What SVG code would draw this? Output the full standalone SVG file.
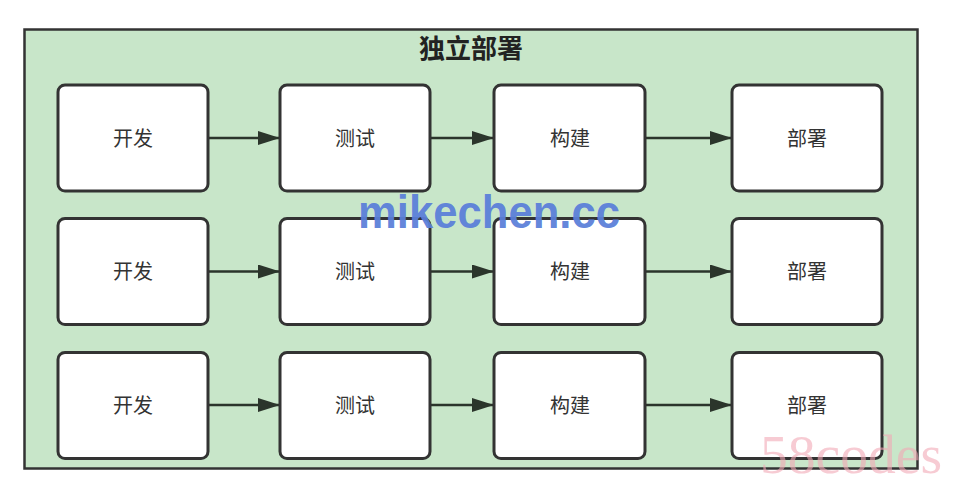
<svg xmlns="http://www.w3.org/2000/svg" width="958" height="488" viewBox="0 0 958 488">
<defs>
<style>
.container{fill:#c8e6c9;stroke:#333;stroke-width:2.5}
.box{fill:#fff;stroke:#333;stroke-width:3}
.lbl{font-family:"Noto Sans CJK SC","Noto Sans",sans-serif;font-size:20px;fill:#333;text-anchor:middle}
.title{font-family:"Noto Sans CJK SC","Noto Sans",sans-serif;font-size:26px;font-weight:bold;fill:#222;text-anchor:middle}
.edge{stroke:#2b352b;stroke-width:2.5;fill:none}
</style>
<marker id="ah" viewBox="0 0 22 14" refX="22" refY="7" markerWidth="22" markerHeight="14" markerUnits="userSpaceOnUse" orient="auto">
<path d="M0,0 L22,7 L0,14 Z" fill="#2b352b"/>
</marker>
</defs>
<rect width="958" height="488" fill="#fff"/>
<g id="container">
<rect class="container" x="24.5" y="29.5" width="893" height="439"/>
<text class="title" x="471" y="57.5">独立部署</text>
</g>
<g id="connectors">
<line class="edge" x1="208" y1="138" x2="280" y2="138" marker-end="url(#ah)"/>
<line class="edge" x1="430" y1="138" x2="494" y2="138" marker-end="url(#ah)"/>
<line class="edge" x1="645" y1="138" x2="732" y2="138" marker-end="url(#ah)"/>
<line class="edge" x1="208" y1="271.5" x2="280" y2="271.5" marker-end="url(#ah)"/>
<line class="edge" x1="430" y1="271.5" x2="494" y2="271.5" marker-end="url(#ah)"/>
<line class="edge" x1="645" y1="271.5" x2="732" y2="271.5" marker-end="url(#ah)"/>
<line class="edge" x1="208" y1="405" x2="280" y2="405" marker-end="url(#ah)"/>
<line class="edge" x1="430" y1="405" x2="494" y2="405" marker-end="url(#ah)"/>
<line class="edge" x1="645" y1="405" x2="732" y2="405" marker-end="url(#ah)"/>
</g>
<g id="r1c1"><rect class="box" x="58" y="85" width="150" height="106" rx="7"/><text class="lbl" x="133" y="145.5">开发</text></g>
<g id="r1c2"><rect class="box" x="280" y="85" width="150" height="106" rx="7"/><text class="lbl" x="355" y="145.5">测试</text></g>
<g id="r1c3"><rect class="box" x="494" y="85" width="151" height="106" rx="7"/><text class="lbl" x="570" y="145.5">构建</text></g>
<g id="r1c4"><rect class="box" x="732" y="85" width="150" height="106" rx="7"/><text class="lbl" x="807" y="145.5">部署</text></g>
<g id="r2c1"><rect class="box" x="58" y="218.5" width="150" height="106" rx="7"/><text class="lbl" x="133" y="279">开发</text></g>
<g id="r2c2"><rect class="box" x="280" y="218.5" width="150" height="106" rx="7"/><text class="lbl" x="355" y="279">测试</text></g>
<g id="r2c3"><rect class="box" x="494" y="218.5" width="151" height="106" rx="7"/><text class="lbl" x="570" y="279">构建</text></g>
<g id="r2c4"><rect class="box" x="732" y="218.5" width="150" height="106" rx="7"/><text class="lbl" x="807" y="279">部署</text></g>
<g id="r3c1"><rect class="box" x="58" y="352.5" width="150" height="106" rx="7"/><text class="lbl" x="133" y="412.5">开发</text></g>
<g id="r3c2"><rect class="box" x="280" y="352.5" width="150" height="106" rx="7"/><text class="lbl" x="355" y="412.5">测试</text></g>
<g id="r3c3"><rect class="box" x="494" y="352.5" width="151" height="106" rx="7"/><text class="lbl" x="570" y="412.5">构建</text></g>
<g id="r3c4"><rect class="box" x="732" y="352.5" width="150" height="106" rx="7"/><text class="lbl" x="807" y="412.5">部署</text></g>
<g id="watermarks">
<text x="358" y="228" font-family="Liberation Sans, Arial, sans-serif" font-size="46" font-weight="bold" fill="#5b7fd9" fill-opacity="0.95" textLength="262" lengthAdjust="spacingAndGlyphs">mikechen.cc</text>
<text x="760" y="473" font-family="Liberation Serif, Times New Roman, serif" font-size="55" fill="#f2a9b5" fill-opacity="0.6" textLength="182" lengthAdjust="spacingAndGlyphs">58codes</text>
</g>
</svg>
